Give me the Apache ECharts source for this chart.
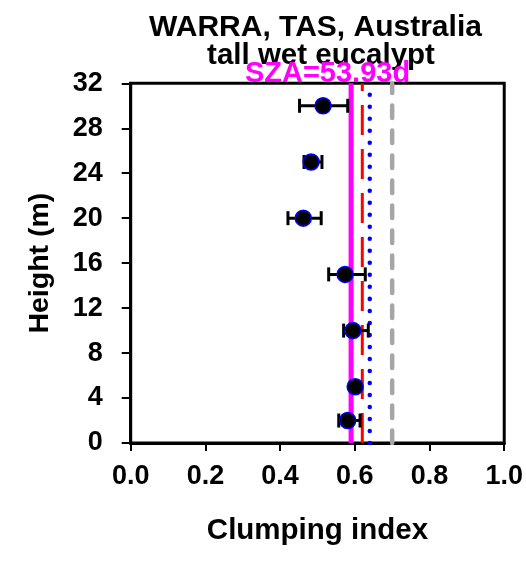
<!DOCTYPE html>
<html>
<head>
<meta charset="utf-8">
<script src="https://cdn.jsdelivr.net/npm/echarts@6/dist/echarts.min.js"></script>
<style>
  html, body { margin: 0; padding: 0; background: #fff; }
  #chart { width: 526px; height: 563px; }
</style>
</head>
<body>
<div id="chart"></div>
<script>
// Canopy height (m) of each measurement level
const heights = [30, 25, 20, 15, 10, 5, 2];
// Mean clumping index at each level
const clumping = [0.515, 0.483, 0.462, 0.574, 0.595, 0.601, 0.581];
// Error bar ends (low / high)
const errLow  = [0.452, 0.464, 0.421, 0.530, 0.570, 0.592, 0.557];
const errHigh = [0.581, 0.512, 0.510, 0.628, 0.636, 0.610, 0.614];
// Reference clumping values drawn as vertical lines
const refValues = [0.59, 0.62, 0.64, 0.70];
const refColors = ['#ff00ff', '#ff0000', '#0000ff', '#a6a6a6'];
// Axis tick settings
const xTicks = { min: 0, max: 1, interval: 0.2 };
const yTicks = { min: 0, max: 32, interval: 4 };

const titleLines = ['WARRA, TAS, Australia', 'tall wet eucalypt'];
const szaLabel = 'SZA=53.93d';

const FONT = '"Liberation Sans", Arial, sans-serif';

const refStyles = [
  { width: 5, type: 'solid', cap: 'butt' },
  { width: 3, type: [30, 14], cap: 'butt' },
  { width: 4.5, type: [0.01, 12], cap: 'round' },
  { width: 4.5, type: [12.5, 12.5], cap: 'round' }
];

const refSeries = refValues.map((v, i) => ({
  type: 'line',
  data: [[v, yTicks.min], [v, yTicks.max]],
  symbol: 'none',
  silent: true,
  z: 2,
  lineStyle: {
    color: refColors[i],
    width: refStyles[i].width,
    type: refStyles[i].type,
    cap: refStyles[i].cap
  }
}));

const errData = heights.map((h, i) => [errLow[i], errHigh[i], h]);

const chart = echarts.init(document.getElementById('chart'), null, { renderer: 'canvas' });
chart.setOption({
  animation: false,
  backgroundColor: '#fff',
  grid: {
    left: 130.7, right: 19.3, top: 83.3, bottom: 120,
    show: true, borderColor: '#000', borderWidth: 3, backgroundColor: 'transparent'
  },
  xAxis: {
    type: 'value',
    min: xTicks.min, max: xTicks.max, interval: xTicks.interval,
    name: 'Clumping index',
    nameLocation: 'middle',
    nameGap: 73,
    nameTextStyle: { fontFamily: FONT, fontWeight: 'bold', fontSize: 29.5, color: '#000' },
    axisLine: { lineStyle: { color: '#000', width: 3 } },
    axisTick: { show: true, length: 8, lineStyle: { color: '#000', width: 2 } },
    axisLabel: {
      margin: 20,
      fontFamily: FONT, fontWeight: 'bold', fontSize: 27, color: '#000',
      formatter: v => v.toFixed(1)
    },
    splitLine: { show: false }
  },
  yAxis: {
    type: 'value',
    min: yTicks.min, max: yTicks.max, interval: yTicks.interval,
    name: 'Height (m)',
    nameLocation: 'middle',
    nameGap: 76,
    nameTextStyle: { fontFamily: FONT, fontWeight: 'bold', fontSize: 28.5, color: '#000' },
    axisLine: { lineStyle: { color: '#000', width: 3 } },
    axisTick: { show: true, length: 9, lineStyle: { color: '#000', width: 2 } },
    axisLabel: {
      margin: 28,
      fontFamily: FONT, fontWeight: 'bold', fontSize: 27, color: '#000'
    },
    splitLine: { show: false }
  },
  graphic: [
    { type: 'text', x: 315.5, y: 28, z: 100,
      style: { text: titleLines[0], align: 'center', verticalAlign: 'middle',
               font: 'bold 30px ' + FONT, fill: '#000' } },
    { type: 'text', x: 321, y: 56, z: 100,
      style: { text: titleLines[1], align: 'center', verticalAlign: 'middle',
               font: 'bold 29.5px ' + FONT, fill: '#000' } },
    { type: 'text', x: 327.5, y: 74, z: 101,
      style: { text: szaLabel, align: 'center', verticalAlign: 'middle',
               font: 'bold 29px ' + FONT, fill: '#ff00ff' } }
  ],
  series: [
    ...refSeries,
    {
      type: 'custom',
      z: 3,
      silent: true,
      data: errData,
      renderItem: (params, api) => {
        const lo = api.coord([api.value(0), api.value(2)]);
        const hi = api.coord([api.value(1), api.value(2)]);
        const cap = 7;
        const style = { stroke: '#000', lineWidth: 3 };
        return {
          type: 'group',
          children: [
            { type: 'line', shape: { x1: lo[0], y1: lo[1], x2: hi[0], y2: hi[1] }, style },
            { type: 'line', shape: { x1: lo[0], y1: lo[1] - cap, x2: lo[0], y2: lo[1] + cap }, style },
            { type: 'line', shape: { x1: hi[0], y1: hi[1] - cap, x2: hi[0], y2: hi[1] + cap }, style }
          ]
        };
      }
    },
    {
      type: 'scatter',
      z: 4,
      data: heights.map((h, i) => [clumping[i], h]),
      symbol: 'circle',
      symbolSize: 16,
      itemStyle: { color: '#000', borderColor: '#0000ff', borderWidth: 1.5, opacity: 1 }
    }
  ]
});
</script>
</body>
</html>
